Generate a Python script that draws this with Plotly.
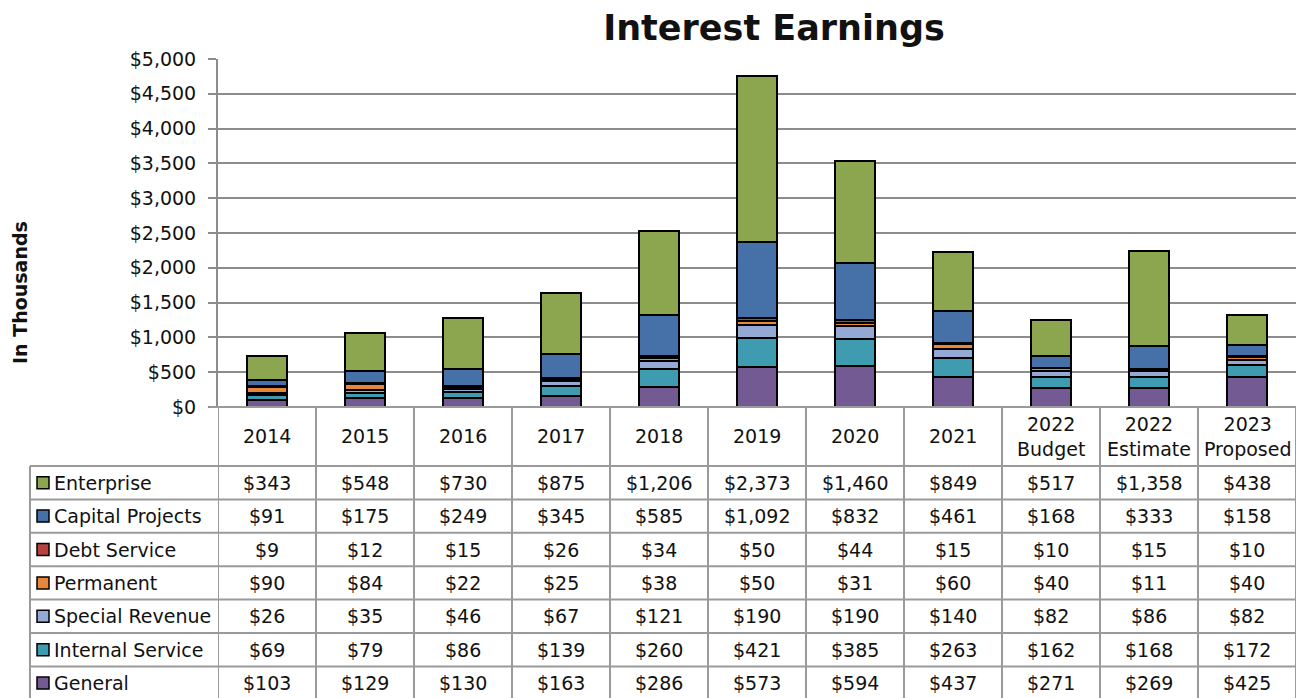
import plotly.graph_objects as go

# ---- data (thousands of dollars) ----
periods = ["2014", "2015", "2016", "2017", "2018", "2019", "2020", "2021",
           "2022<br>Budget", "2022<br>Estimate", "2023<br>Proposed"]

enterprise = [343, 548, 730, 875, 1206, 2373, 1460, 849, 517, 1358, 438]
capital_projects = [91, 175, 249, 345, 585, 1092, 832, 461, 168, 333, 158]
debt_service = [9, 12, 15, 26, 34, 50, 44, 15, 10, 15, 10]
permanent = [90, 84, 22, 25, 38, 50, 31, 60, 40, 11, 40]
special_revenue = [26, 35, 46, 67, 121, 190, 190, 140, 82, 86, 82]
internal_service = [69, 79, 86, 139, 260, 421, 385, 263, 162, 168, 172]
general = [103, 129, 130, 163, 286, 573, 594, 437, 271, 269, 425]

fund_names = ["Enterprise", "Capital Projects", "Debt Service", "Permanent",
              "Special Revenue", "Internal Service", "General"]
fund_values = [enterprise, capital_projects, debt_service, permanent,
               special_revenue, internal_service, general]
fund_colors = ["#8BA64E", "#4671A8", "#B8403E", "#E8873A",
               "#94A9D3", "#3E9BB0", "#745A92"]

# ---- page geometry (pixels) ----
W, H = 1309, 698
L, R, T, B = 218, 1296, 59, 407
FONT = "DejaVu Sans"
TXT = "#111111"
GRID = "#8c8c8c"
TABLE_LINE = "#9a9a9a"
TSIZE = 19


def fx(px):
    return (px - L) / (R - L)


def fy(py):
    return (B - py) / (B - T)


fig = go.Figure()

# stacked bars: bottom series first
for name, vals, col in reversed(list(zip(fund_names, fund_values, fund_colors))):
    fig.add_trace(go.Bar(
        x=periods, y=vals, name=name, width=0.41,
        marker=dict(color=col, line=dict(color="black", width=2)),
        showlegend=False,
    ))

shapes = []
annotations = []

# data table geometry
header_top, header_bot = 407, 466
row_h = 33.4
table_bottom = header_bot + row_h * len(fund_names)
legend_left = 30

# table top border (continues the x axis)
shapes.append(dict(type="line", xref="paper", yref="paper",
                   x0=fx(210), x1=fx(R), y0=fy(header_top), y1=fy(header_top),
                   line=dict(color=TABLE_LINE, width=2)))
# row borders
for k in range(len(fund_names) + 1):
    yy = header_bot + k * row_h
    shapes.append(dict(type="line", xref="paper", yref="paper",
                       x0=fx(legend_left), x1=fx(R), y0=fy(yy), y1=fy(yy),
                       line=dict(color=TABLE_LINE, width=2)))
# column borders on the category scale
for i in range(len(periods) + 1):
    shapes.append(dict(type="line", xref="x", yref="paper",
                       x0=i - 0.5, x1=i - 0.5, y0=fy(header_top), y1=fy(table_bottom),
                       line=dict(color=TABLE_LINE, width=2)))
# legend column left border
shapes.append(dict(type="line", xref="paper", yref="paper",
                   x0=fx(legend_left), x1=fx(legend_left),
                   y0=fy(header_bot), y1=fy(table_bottom),
                   line=dict(color=TABLE_LINE, width=2)))

# header labels (category positions by index)
for i, p in enumerate(periods):
    annotations.append(dict(x=i, xref="x", y=fy((header_top + header_bot) / 2), yref="paper",
                            text=p, showarrow=False, xanchor="center", yanchor="middle",
                            font=dict(family=FONT, size=TSIZE, color=TXT)))

# series rows: key swatch, name, values
for r, (name, vals, col) in enumerate(zip(fund_names, fund_values, fund_colors)):
    cy = header_bot + r * row_h + row_h / 2
    shapes.append(dict(type="rect", xref="paper", yref="paper",
                       x0=fx(37), x1=fx(49), y0=fy(cy + 6), y1=fy(cy - 6),
                       fillcolor=col, line=dict(color="black", width=1.5)))
    annotations.append(dict(x=fx(52), xref="paper", y=fy(cy), yref="paper",
                            text=name, showarrow=False, xanchor="left", yanchor="middle",
                            font=dict(family=FONT, size=TSIZE, color=TXT)))
    for i, v in enumerate(vals):
        annotations.append(dict(x=i, xref="x", y=fy(cy), yref="paper",
                                text=f"${v:,}", showarrow=False,
                                xanchor="center", yanchor="middle",
                                font=dict(family=FONT, size=TSIZE, color=TXT)))

# axis title
annotations.append(dict(x=fx(20), xref="paper", y=fy(293), yref="paper",
                        text="<b>In Thousands</b>", showarrow=False, textangle=-90,
                        xanchor="center", yanchor="middle",
                        font=dict(family=FONT, size=19, color=TXT)))

fig.update_layout(
    width=W, height=H,
    margin=dict(l=L, r=W - R, t=T, b=H - B, pad=0),
    barmode="stack",
    plot_bgcolor="white", paper_bgcolor="white",
    title=dict(text="<b>Interest Earnings</b>", x=774 / W, xanchor="center",
               y=1 - 28 / H, yanchor="middle", xref="container", yref="container",
               font=dict(family=FONT, size=35, color=TXT)),
    xaxis=dict(type="category", range=[-0.5, len(periods) - 0.5],
               showticklabels=False, showgrid=False, zeroline=False, showline=False,
               ticks=""),
    yaxis=dict(range=[0, 5000], dtick=500, tickprefix="$", tickformat=",",
               showgrid=True, gridcolor=GRID, gridwidth=2, zeroline=False,
               showline=True, linecolor=GRID, linewidth=2,
               ticks="outside", ticklen=8, tickwidth=2, tickcolor=GRID,
               ticklabelstandoff=8,
               tickfont=dict(family=FONT, size=TSIZE, color=TXT)),
    shapes=shapes,
    annotations=annotations,
    hovermode=False,
)

fig.write_html("out.html")
